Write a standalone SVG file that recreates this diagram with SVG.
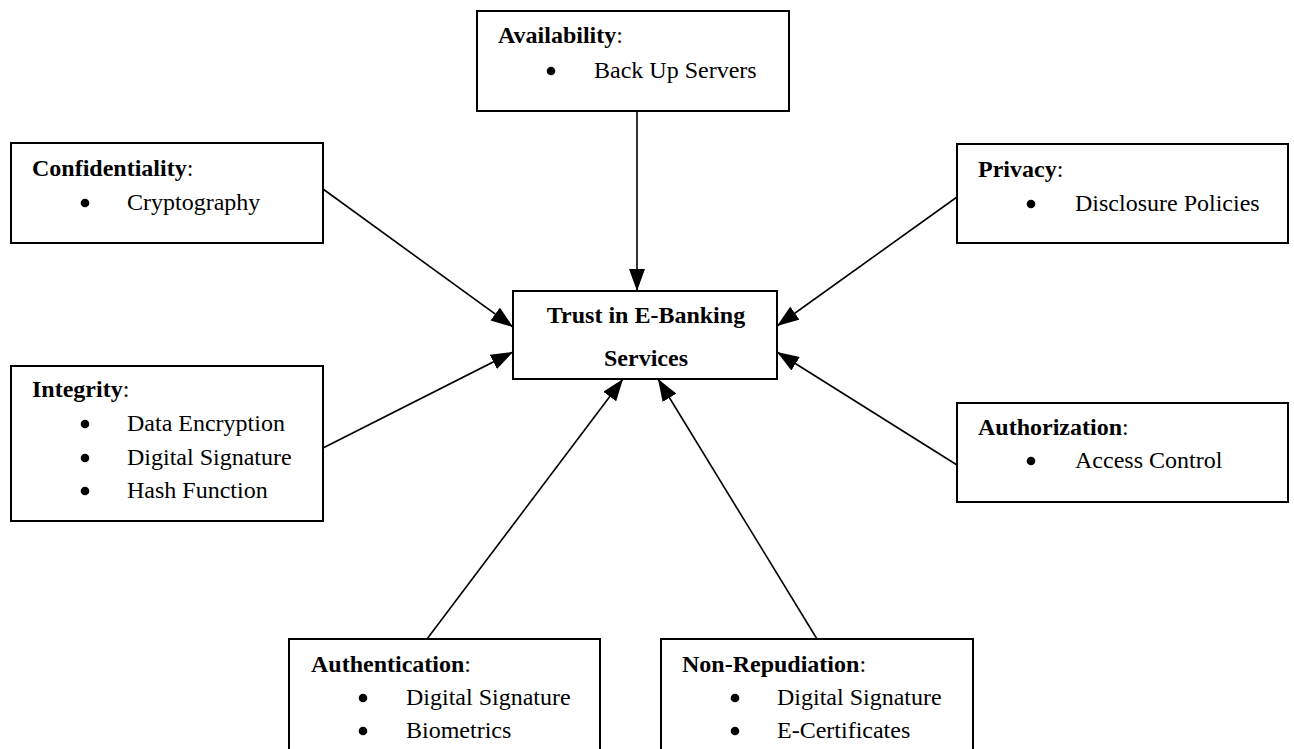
<svg xmlns="http://www.w3.org/2000/svg" width="1294" height="749" viewBox="0 0 1294 749">
<style>
.box{fill:#fff;stroke:#000;stroke-width:2}
text{font-family:"Liberation Serif","Times New Roman",serif;font-size:24px;fill:#000}
.b{font-weight:bold}
.c{font-weight:bold;text-anchor:middle}
.edge{stroke:#000;stroke-width:1.6;fill:none;marker-end:url(#ah)}
.dot{fill:#000}
</style>
<defs>
<marker id="ah" markerUnits="userSpaceOnUse" markerWidth="22" markerHeight="16" refX="22" refY="8" orient="auto">
<path d="M0,0 L22,8 L0,16 z" fill="#000"/>
</marker>
</defs>
<rect width="1294" height="749" fill="#fff"/>
<g id="connectors">
<line class="edge" x1="637" y1="111" x2="637" y2="291"/>
<line class="edge" x1="323" y1="189" x2="513" y2="327"/>
<line class="edge" x1="323" y1="448" x2="513" y2="352"/>
<line class="edge" x1="957" y1="197" x2="777" y2="326"/>
<line class="edge" x1="957" y1="465" x2="777" y2="352"/>
<line class="edge" x1="427" y1="639" x2="623" y2="379"/>
<line class="edge" x1="817" y1="639" x2="658" y2="379"/>
</g>
<g id="center">
<rect class="box" x="513" y="291" width="264" height="88"/>
<text class="c" x="646" y="323">Trust in E-Banking</text>
<text class="c" x="646" y="366">Services</text>
</g>
<g id="availability">
<rect class="box" x="477" y="11" width="312" height="100"/>
<text x="498" y="43"><tspan class="b">Availability</tspan>:</text>
<circle class="dot" cx="551" cy="71" r="4.3"/>
<text x="594" y="78">Back Up Servers</text>
</g>
<g id="confidentiality">
<rect class="box" x="11" y="143" width="312" height="100"/>
<text x="32" y="176"><tspan class="b">Confidentiality</tspan>:</text>
<circle class="dot" cx="85" cy="203" r="4.3"/>
<text x="127" y="210">Cryptography</text>
</g>
<g id="integrity">
<rect class="box" x="11" y="366" width="312" height="155"/>
<text x="32" y="397"><tspan class="b">Integrity</tspan>:</text>
<circle class="dot" cx="85" cy="424" r="4.3"/>
<text x="127" y="431">Data Encryption</text>
<circle class="dot" cx="85" cy="458" r="4.3"/>
<text x="127" y="465">Digital Signature</text>
<circle class="dot" cx="85" cy="491" r="4.3"/>
<text x="127" y="498">Hash Function</text>
</g>
<g id="privacy">
<rect class="box" x="957" y="144" width="331" height="99"/>
<text x="978" y="177"><tspan class="b">Privacy</tspan>:</text>
<circle class="dot" cx="1031" cy="204" r="4.3"/>
<text x="1075" y="211">Disclosure Policies</text>
</g>
<g id="authorization">
<rect class="box" x="957" y="403" width="331" height="99"/>
<text x="978" y="435"><tspan class="b">Authorization</tspan>:</text>
<circle class="dot" cx="1031" cy="461" r="4.3"/>
<text x="1075" y="468">Access Control</text>
</g>
<g id="authentication">
<rect class="box" x="289" y="639" width="311" height="130"/>
<text x="311" y="672"><tspan class="b">Authentication</tspan>:</text>
<circle class="dot" cx="363" cy="698" r="4.3"/>
<text x="406" y="705">Digital Signature</text>
<circle class="dot" cx="363" cy="731" r="4.3"/>
<text x="406" y="738">Biometrics</text>
</g>
<g id="nonrepudiation">
<rect class="box" x="661" y="639" width="312" height="130"/>
<text x="682" y="672"><tspan class="b">Non-Repudiation</tspan>:</text>
<circle class="dot" cx="735" cy="698" r="4.3"/>
<text x="777" y="705">Digital Signature</text>
<circle class="dot" cx="735" cy="731" r="4.3"/>
<text x="777" y="738">E-Certificates</text>
</g>
</svg>
